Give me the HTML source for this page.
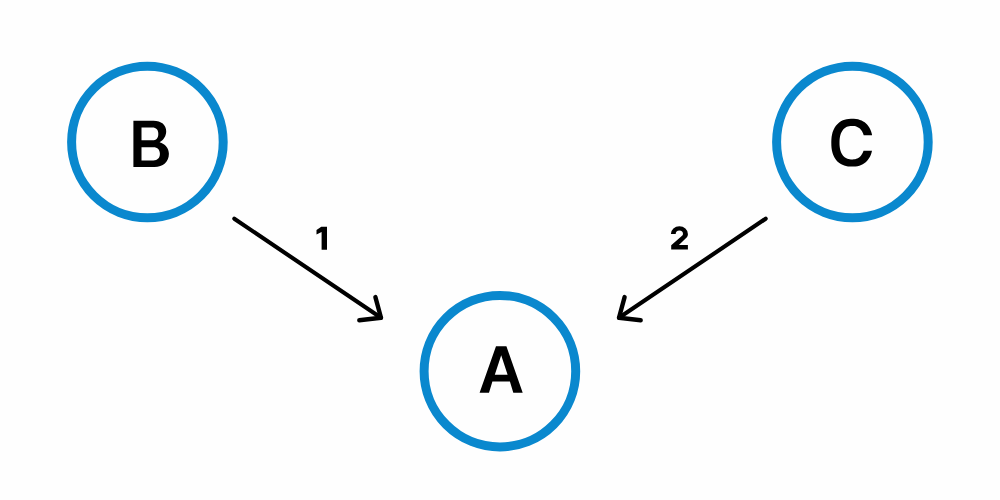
<!DOCTYPE html>
<html><head><meta charset="utf-8"><title>Diagram</title><style>
html,body{margin:0;padding:0;background:#fefefe;width:1000px;height:500px;overflow:hidden;font-family:"Liberation Sans",sans-serif}
svg{display:block}
</style></head><body>
<svg width="1000" height="500" viewBox="0 0 1000 500">
<rect width="1000" height="500" fill="#fefefe"/>
<circle cx="147.4" cy="142" r="75.8" fill="none" stroke="#0a88ce" stroke-width="9"/>
<circle cx="852.4" cy="142" r="75.8" fill="none" stroke="#0a88ce" stroke-width="9"/>
<circle cx="499.9" cy="371.2" r="75.8" fill="none" stroke="#0a88ce" stroke-width="9"/>
<g fill="none" stroke="#000" stroke-width="4.1" stroke-linecap="round" stroke-linejoin="round">
<path d="M234.3 218.7 L381.0 317.8"/>
<path stroke-width="4.4" d="M375.4 297.1 L381.0 317.8 L359.3 320.3"/>
<path d="M765.7 218.7 L619.0 317.8"/>
<path stroke-width="4.4" d="M624.6 297.1 L619.0 317.8 L640.7 320.3"/>
</g>
<g fill="#000">
<path fill-rule="evenodd" d="M133.4 120.7 L153.5 120.7 C161.3 120.7 166.2 124.8 166.2 131.3 C166.2 136.0 163.8 139.8 159.6 142.3 C165.0 143.9 168.9 147.9 168.9 153.8 C168.9 161.9 163.0 167.1 154.5 167.1 L133.4 167.1 Z M141.5 127.6 L152.3 127.6 C156.3 127.6 158.3 129.9 158.3 133.9 C158.3 137.9 156.3 140.3 152.3 140.3 L141.5 140.3 Z M141.5 147.2 L153.3 147.2 C157.7 147.2 159.9 149.8 159.9 153.8 C159.9 157.9 157.7 160.4 153.3 160.4 L141.5 160.4 Z"/>
<path d="M872.13 135.30 L871.66 133.21 L871.05 131.25 L870.31 129.43 L869.43 127.75 L868.43 126.19 L867.30 124.78 L866.05 123.50 L864.68 122.37 L863.20 121.39 L861.60 120.56 L859.89 119.89 L858.05 119.37 L856.07 119.02 L853.85 118.83 L850.91 118.81 L848.57 118.95 L846.53 119.25 L844.65 119.72 L842.90 120.34 L841.27 121.12 L839.75 122.06 L838.35 123.15 L837.06 124.38 L835.90 125.75 L834.86 127.27 L833.94 128.91 L833.16 130.69 L832.51 132.60 L832.00 134.65 L831.62 136.86 L831.39 139.27 L831.30 142.12 L831.35 145.40 L831.55 147.89 L831.88 150.15 L832.35 152.24 L832.96 154.19 L833.71 156.00 L834.59 157.69 L835.59 159.24 L836.72 160.65 L837.98 161.92 L839.35 163.05 L840.83 164.03 L842.43 164.86 L844.15 165.52 L845.99 166.03 L847.98 166.38 L850.21 166.57 L853.15 166.59 L855.48 166.45 L857.51 166.14 L859.39 165.67 L861.14 165.04 L862.77 164.26 L864.28 163.32 L865.68 162.23 L866.96 160.99 L868.13 159.62 L869.17 158.10 L870.08 156.45 L870.86 154.67 L871.50 152.75 L872.01 150.70 L863.51 150.70 L863.09 151.91 L862.59 153.04 L862.03 154.09 L861.40 155.05 L860.70 155.92 L859.93 156.70 L859.10 157.39 L858.22 157.98 L857.26 158.48 L856.25 158.87 L855.16 159.17 L853.97 159.36 L852.62 159.44 L850.92 159.43 L849.64 159.31 L848.49 159.08 L847.43 158.76 L846.43 158.33 L845.50 157.81 L844.63 157.19 L843.82 156.47 L843.08 155.66 L842.40 154.76 L841.79 153.77 L841.24 152.70 L840.77 151.54 L840.37 150.30 L840.05 148.98 L839.79 147.56 L839.62 146.03 L839.52 144.34 L839.50 142.10 L839.56 140.24 L839.69 138.63 L839.90 137.16 L840.19 135.79 L840.55 134.51 L840.98 133.30 L841.49 132.19 L842.07 131.15 L842.71 130.21 L843.42 129.35 L844.19 128.58 L845.03 127.91 L845.93 127.33 L846.89 126.85 L847.92 126.47 L849.02 126.20 L850.22 126.02 L851.63 125.95 L853.29 125.98 L854.54 126.12 L855.68 126.36 L856.73 126.70 L857.72 127.14 L858.64 127.68 L859.50 128.32 L860.30 129.05 L861.03 129.88 L861.70 130.79 L862.30 131.79 L862.83 132.88 L863.30 134.05 L863.68 135.30 Z"/>
<path fill-rule="evenodd" d="M479.6 392.7 L496.0 346.3 L506.4 346.3 L522.7 392.7 L513.3 392.7 L509.9 381.6 L492.4 381.6 L489.0 392.7 Z M501.2 355.2 L507.6 374.8 L494.8 374.8 Z"/>
<path d="M321.3 226.8 L327.0 226.8 L327.0 249.7 L321.6 249.7 L321.6 232.0 L316.5 234.6 L316.5 230.1 Z"/>
<path d="M670.9 234.0 A8.5 7.8 0 0 1 687.9 234.0 C687.9 235.4 687.6 236.4 686.9 237.2 L678.9 244.9 L687.9 244.9 L687.9 249.6 L671.2 249.6 L671.2 245.3 L681.2 236.6 C682.5 235.5 683.0 234.8 683.0 234.0 A3.65 3.6 0 0 0 675.7 234.0 Z"/>
</g>
</svg>
</body></html>
